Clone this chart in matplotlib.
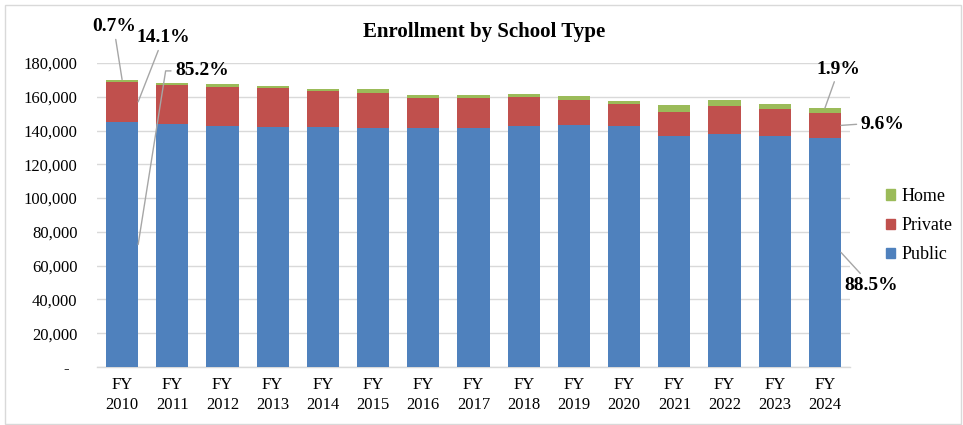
import numpy as np
import matplotlib
matplotlib.use("Agg")
import matplotlib.pyplot as plt
from matplotlib.patches import Patch, Rectangle

plt.rcParams['font.family'] = ['Liberation Serif', 'DejaVu Serif']

# enrollment by fiscal year
years = ['FY\n2010', 'FY\n2011', 'FY\n2012', 'FY\n2013', 'FY\n2014', 'FY\n2015', 'FY\n2016',
         'FY\n2017', 'FY\n2018', 'FY\n2019', 'FY\n2020', 'FY\n2021', 'FY\n2022', 'FY\n2023',
         'FY\n2024']
public = [145030, 143600, 142630, 142220, 142030, 141800, 141600, 141800, 142400,
          143200, 142870, 136650, 138080, 136870, 135670]
private = [23950, 23170, 23360, 22930, 21320, 20350, 17750, 17550, 17500,
           14950, 12760, 14370, 16530, 15950, 14750]
home = [1200, 1190, 1380, 1440, 1440, 2640, 1550, 1550, 1800,
        2200, 1800, 3830, 3410, 2810, 2900]

c_public = '#4F81BD'
c_private = '#C0504D'
c_home = '#9BBB59'
grid_c = '#D9D9D9'

public = np.array(public)
private = np.array(private)
home = np.array(home)
total = public + private + home
x = np.arange(len(years))
bw = 0.64

fig = plt.figure(figsize=(9.63, 4.25), dpi=100)
ax = fig.add_axes([0.1007, 0.1365, 0.782, 0.7153])

ax.bar(x, public, bw, color=c_public, zorder=3)
ax.bar(x, private, bw, bottom=public, color=c_private, zorder=3)
ax.bar(x, home, bw, bottom=public + private, color=c_home, zorder=3)

ax.set_xlim(-0.5, len(years) - 0.5)
ax.set_ylim(0, 180000)
yt = np.arange(0, 180001, 20000)
ax.set_yticks(yt)
ax.set_yticklabels(['-  ' if v == 0 else f'{v:,}' for v in yt], fontsize=12)
ax.set_xticks(x)
ax.set_xticklabels(years, fontsize=12, linespacing=1.35)
ax.tick_params(axis='y', length=0, pad=14)
ax.tick_params(axis='x', length=0, pad=7)
ax.grid(axis='y', color=grid_c, lw=1, zorder=0)
for s in ['top', 'right', 'left']:
    ax.spines[s].set_visible(False)
ax.spines['bottom'].set_color(grid_c)
ax.spines['bottom'].set_linewidth(1)

fig.text(0.503, 0.925, 'Enrollment by School Type', ha='center', va='center',
         fontsize=15, fontweight='bold')

# percentage call-outs for first and last year
def share(i):
    return (public[i] / total[i] * 100, private[i] / total[i] * 100, home[i] / total[i] * 100)

lead = dict(arrowstyle='-', color='#A6A6A6', lw=1, shrinkA=1, shrinkB=0)
lbl = dict(fontsize=14, fontweight='bold', ha='center', va='center',
           textcoords='offset points', annotation_clip=False)

p0, r0, h0 = share(0)
ax.annotate(f'{h0:.1f}%', xy=(0, total[0]), xytext=(-6, 38), arrowprops=lead, **lbl)
ax.annotate(f'{r0:.1f}%', xy=(bw / 2, public[0] + private[0] / 2), xytext=(18, 46),
            arrowprops=lead, **lbl)
ax.annotate(f'{p0:.1f}%', xy=(bw / 2, public[0] / 2), xytext=(46, 125),
            arrowprops=dict(lead, relpos=(0, 0.5),
                            connectionstyle='angle,angleA=0,angleB=81,rad=0'), **lbl)

n = len(years) - 1
pn, rn, hn = share(n)
ax.annotate(f'{hn:.1f}%', xy=(n, total[n]), xytext=(10, 28), arrowprops=lead, **lbl)
ax.annotate(f'{rn:.1f}%', xy=(n + bw / 2, public[n] + private[n] / 2), xytext=(30, 1),
            arrowprops=dict(lead, relpos=(0, 0.5)), **lbl)
ax.annotate(f'{pn:.1f}%', xy=(n + bw / 2, public[n] / 2), xytext=(22, -24),
            arrowprops=lead, **lbl)

handles = [Patch(color=c_home), Patch(color=c_private), Patch(color=c_public)]
fig.legend(handles, ['Home', 'Private', 'Public'], loc='center left',
           bbox_to_anchor=(0.92, 0.469), frameon=False, fontsize=13,
           handlelength=0.5, handleheight=0.5, handletextpad=0.35,
           labelspacing=0.68, borderpad=0, borderaxespad=0)

fig.patches.append(Rectangle((0.005, 0.003), 0.993, 0.985, transform=fig.transFigure,
                             fill=False, edgecolor=grid_c, lw=1))

fig.savefig('out.png', dpi=100)
